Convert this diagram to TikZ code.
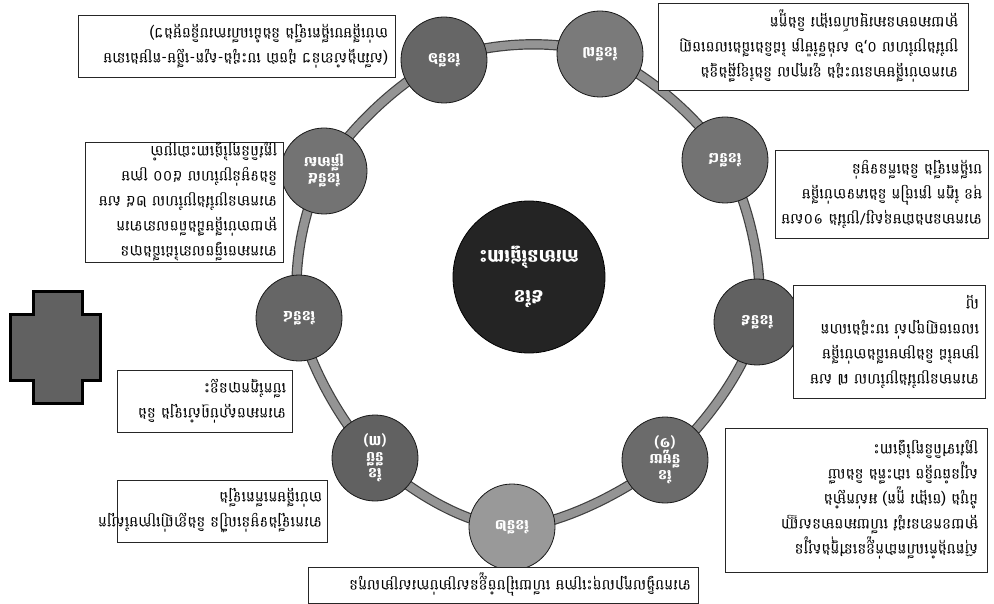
\documentclass[tikz,border=0pt]{standalone}
\usepackage{fontspec}
\newfontfamily\kh[Script=Khmer]{Battambang}
\usetikzlibrary{backgrounds}
\begin{document}
\begin{tikzpicture}[x=1pt,y=-1pt,
  mc/.style={circle, draw=black!90, line width=0.8pt, minimum size=86pt, inner sep=0pt,
    text=white, align=center, rotate=180, font=\kh\bfseries\fontsize{14}{16}\selectfont},
  ib/.style={draw=black!85, line width=0.9pt, rectangle, inner sep=0pt, align=left,
    rotate=180, fill=white, font=\kh\fontsize{15}{25}\selectfont},
  ringline/.style={line width=1.2pt, draw=black!75, double=black!42, double distance=8pt}
]
\useasboundingbox (0,0) rectangle (994,604);

% centre circle
\node[circle, draw=black, line width=0.8pt, fill=black!86, minimum size=152pt, inner sep=0pt,
  text=white, align=center, rotate=180, font=\kh\bfseries\fontsize{18}{20}\selectfont]
  (ctr) at (529,277) {៩ខែ\\[20pt]ការមានផ្ទៃពោះ};

% month circles
\node[mc, fill=black!52] (m7) at (600,54) {ខែទី៧};
\node[mc, fill=black!60] (m6) at (444,60) {ខែទី៦};
\node[mc, fill=black!55] (m5) at (324,171) {ខែទី៥\\ត្រីមាស};
\node[mc, fill=black!60] (m4) at (299,318) {ខែទី៤};
\node[mc, fill=black!62] (m3) at (375,458) {ខែ\\ទីបី\\(៣)};
\node[mc, fill=black!40] (m2) at (512,527) {ខែទី២};
\node[mc, fill=black!58] (m1) at (665,460) {ខែ\\ទីមួយ\\(១)};
\node[mc, fill=black!62] (m9) at (757,322) {ខែទី៩};
\node[mc, fill=black!55] (m8) at (725,160) {ខែទី៨};

\begin{pgfonlayer}{background}
\draw[ringline] plot[smooth cycle, tension=0.55] coordinates
  {(m1.center) (m2.center) (m3.center) (m4.center) (m5.center) (m6.center) (m7.center) (m8.center) (m9.center)};
\end{pgfonlayer}

% information boxes
\node[ib, minimum width=310pt, minimum height=87pt, text width=290pt] (bA) at (813,46.5)
 {ទារកចាប់ផ្តើមមានបេះដូង~ខួរក្បាល~និងខ្សែឆ្អឹងខ្នង\\
  ប្រវែងប្រហែល~០,៦~សង់ទីម៉ែត្រ~ដៃនិងជើងលេចចេញ\\
  ម្តាយអាចមានអារម្មណ៍ចង្អោរ~និងក្អួត};

\node[ib, minimum width=317pt, minimum height=62pt, text width=303pt] (bB) at (236.5,46)
 {(សរីរាង្គសំខាន់ៗ~ដូចជា~បេះដូង-សួត-ថ្លើម-តម្រងនោម\\
  ចាប់ផ្តើមបង្កើតឡើង~និងដំណើរការបន្តិចម្តងៗ)};

\node[ib, minimum width=198pt, minimum height=120pt, text width=186pt] (bC) at (184,202)
 {ទារកអាចធ្វើចលនាដៃជើងបាន\\
  ម្តាយចាប់ផ្តើមដឹងពីចលនាទារក\\
  ទារកមានប្រវែងប្រហែល~២៥~សម\\
  និងទម្ងន់ប្រហែល~៥០០~ក្រាម\\
  ត្រូវពិនិត្យផ្ទៃពោះជាប្រចាំ};

\node[ib, minimum width=175pt, minimum height=62pt, text width=163pt] (bD) at (204.5,401)
 {ទារកអាចស្តាប់ឮសំឡេង~និង\\
  បើកភ្នែកបានខ្លះ};

\node[ib, minimum width=210pt, minimum height=62pt, text width=200pt] (bE) at (222,511)
 {ទារកឡើងទម្ងន់លឿន~និងខ្លាញ់ក្រោមស្បែក\\
  ចាប់ផ្តើមកកើតឡើង};

\node[ib, minimum width=390pt, minimum height=36pt, text width=376pt] (bF) at (503,585)
 {ទារកបង្វិលក្បាលចុះក្រោម~ហើយរៀបចំខ្លួនសម្រាប់ការសម្រាលកូន};

\node[ib, minimum width=262pt, minimum height=144pt, text width=244pt] (bG) at (856,500)
 {ស៊ុតបង្កកំណើតដាក់ខ្លួននៅក្នុងស្បូន\\
  ម្តាយខកខានរដូវ~ហើយអាចមានសញ្ញា\\
  ដំបូង~(ចង្អោរ~ក្អួត)~អស់កម្លាំង\\
  ស្បូនធំបន្តិច~ដោះតឹង~និងឈឺ\\
  ត្រូវទៅពិនិត្យផ្ទៃពោះ};

\node[ib, minimum width=192pt, minimum height=113pt, text width=180pt] (bH) at (889,341.5)
 {ទារកមានប្រវែងប្រហែល~៧~សម\\
  ម្រាមដៃ~និងម្រាមជើងចាប់ផ្តើម\\
  លេចចេញច្បាស់~បេះដូងលោត\\
  ល្អ};

\node[ib, minimum width=213pt, minimum height=88pt, text width=201pt] (bI) at (881.5,194)
 {ទារកមានរាងជាមនុស្ស/ប្រវែង~១០សម\\
  មុខ~ភ្នែក~ត្រចៀក~និងភេទចាប់ផ្តើម\\
  បង្កើតឡើង~និងកើនទម្ងន់};

% cross
\draw[line width=3pt, draw=black, fill=black!62]
  (33,292) -- (82,292) -- (82,315) -- (100,315) -- (100,380) -- (82,380) -- (82,403)
  -- (33,403) -- (33,380) -- (10,380) -- (10,315) -- (33,315) -- cycle;
\end{tikzpicture}
\end{document}
